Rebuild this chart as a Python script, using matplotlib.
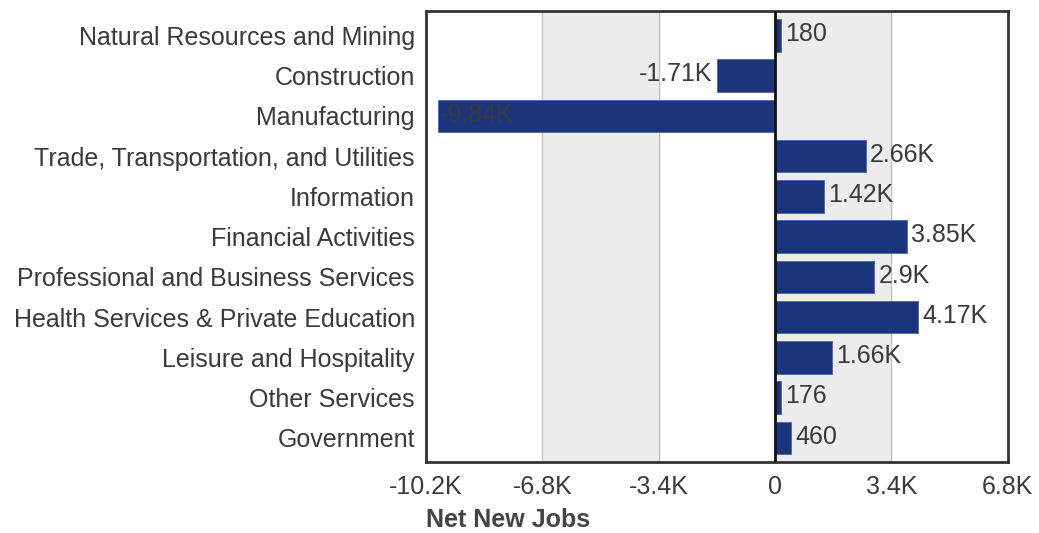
import matplotlib
matplotlib.use("Agg")
import matplotlib.pyplot as plt

# data
industries = [
    "Natural Resources and Mining",
    "Construction",
    "Manufacturing",
    "Trade, Transportation, and Utilities",
    "Information",
    "Financial Activities",
    "Professional and Business Services",
    "Health Services & Private Education",
    "Leisure and Hospitality",
    "Other Services",
    "Government",
]
net_new_jobs = [180, -1710, -9840, 2660, 1420, 3850, 2900, 4170, 1660, 176, 460]
x_ticks = [-10200, -6800, -3400, 0, 3400, 6800]
x_tick_labels = ["-10.2K", "-6.8K", "-3.4K", "0", "3.4K", "6.8K"]


def fmt(v):
    if abs(v) >= 1000:
        s = f"{v / 1000:.2f}".rstrip("0").rstrip(".")
        return s + "K"
    return str(v)


plt.rcParams["font.family"] = ["Liberation Sans", "DejaVu Sans"]
text_color = "#3a3a3a"
bar_color = "#1b347b"
fs = 18

fig = plt.figure(figsize=(10.39, 5.33), dpi=100)
ax = fig.add_axes([0.41, 0.133, 0.56, 0.846])

xmin, xmax = x_ticks[0], x_ticks[-1]
ax.set_xlim(xmin, xmax)
ax.set_ylim(len(industries) - 0.4, -0.6)

# alternating bands
for i in range(len(x_ticks) - 1):
    if i % 2 == 1:
        ax.axvspan(x_ticks[i], x_ticks[i + 1], color="#ececec", zorder=0)
for t in x_ticks[1:-1]:
    ax.axvline(t, color="#c4c4c4", linewidth=1, zorder=1)

y = list(range(len(industries)))
ax.barh(y, net_new_jobs, height=0.81, color=bar_color, edgecolor="#4a66ad",
        linewidth=0.6, zorder=2)
ax.axvline(0, color="#111111", linewidth=2, zorder=3)

for yi, v in zip(y, net_new_jobs):
    label = fmt(v)
    if v >= 0:
        ax.text(v + 120, yi - 0.03, label, ha="left", va="center", fontsize=fs,
                color=text_color, zorder=4)
    elif v < xmin * 0.8:
        # no room outside the axes: draw inside the bar
        ax.text(v + 60, yi - 0.03, label, ha="left", va="center", fontsize=fs,
                color="#3a3a3a", zorder=4)
    else:
        ax.text(v - 120, yi - 0.03, label, ha="right", va="center", fontsize=fs,
                color=text_color, zorder=4)

ax.set_yticks(y)
ax.set_yticklabels(industries, fontsize=fs, color=text_color)
ax.set_xticks(x_ticks)
ax.set_xticklabels(x_tick_labels, fontsize=fs, color=text_color)
ax.tick_params(axis="y", length=0, pad=8)
ax.tick_params(axis="x", length=0, pad=9)

for sp in ax.spines.values():
    sp.set_color("#333333")
    sp.set_linewidth(2)

fig.text(0.41, 0.024, "Net New Jobs", ha="left", va="center",
         fontsize=fs, fontweight="bold", color="#444444")

fig.savefig("out.png", dpi=100)
